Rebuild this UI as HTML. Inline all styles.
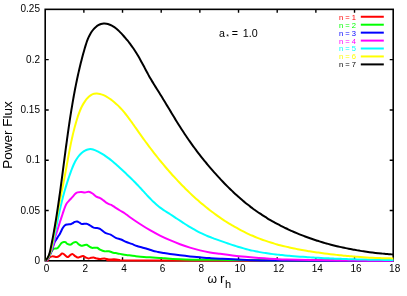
<!DOCTYPE html>
<html><head><meta charset="utf-8"><title>Power Flux</title>
<style>
html,body{margin:0;padding:0;background:#fff;}
body{width:407px;height:296px;overflow:hidden;}
svg{display:block;will-change:transform;}
text{font-family:"Liberation Sans",sans-serif;}
</style></head><body>
<svg width="407" height="296" viewBox="0 0 407 296">
<rect width="407" height="296" fill="#fff"/>
<path d="M83.87 260.80v-3.5M83.87 9.35v3.5M122.53 260.80v-3.5M122.53 9.35v3.5M161.20 260.80v-3.5M161.20 9.35v3.5M199.87 260.80v-3.5M199.87 9.35v3.5M238.53 260.80v-3.5M238.53 9.35v3.5M277.20 260.80v-3.5M277.20 9.35v3.5M315.87 260.80v-3.5M315.87 9.35v3.5M354.53 260.80v-3.5M354.53 9.35v3.5M45.20 210.51h3.5M393.20 210.51h-3.5M45.20 160.22h3.5M393.20 160.22h-3.5M45.20 109.93h3.5M393.20 109.93h-3.5M45.20 59.64h3.5M393.20 59.64h-3.5" stroke="#000" stroke-width="1.4" fill="none"/>
<rect x="45.20" y="9.35" width="348.00" height="251.45" fill="none" stroke="#000" stroke-width="1.6"/>
<path d="M45.50 260.60C45.90 260.52 47.33 260.53 47.90 260.10C48.47 259.67 48.17 258.62 48.90 258.00C49.63 257.38 51.44 256.63 52.30 256.40C53.16 256.17 53.34 256.48 54.07 256.60C54.80 256.72 55.83 257.22 56.70 257.10C57.57 256.98 58.42 256.50 59.30 255.90C60.18 255.30 61.27 253.82 62.00 253.50C62.73 253.18 62.97 253.52 63.70 254.00C64.43 254.48 65.67 255.90 66.40 256.40C67.13 256.90 67.37 257.28 68.10 257.00C68.83 256.72 70.03 255.18 70.80 254.70C71.57 254.22 71.97 253.87 72.70 254.10C73.43 254.33 74.35 255.53 75.20 256.10C76.05 256.67 76.93 257.40 77.80 257.50C78.67 257.60 79.52 256.93 80.40 256.70C81.28 256.47 82.22 255.97 83.10 256.10C83.98 256.23 84.82 257.12 85.70 257.50C86.58 257.88 87.52 258.35 88.40 258.40C89.28 258.45 90.13 257.95 91.00 257.80C91.87 257.65 92.72 257.40 93.60 257.50C94.48 257.60 95.27 258.13 96.30 258.40C97.33 258.67 98.45 259.08 99.80 259.10C101.15 259.12 102.90 258.42 104.40 258.50C105.90 258.58 107.20 259.48 108.80 259.60C110.40 259.72 112.25 259.13 114.00 259.20C115.75 259.27 116.63 259.80 119.30 260.00C121.97 260.20 84.32 260.27 130.00 260.40C175.68 260.53 349.50 260.73 393.40 260.80" fill="none" stroke="#ff0000" stroke-width="2" stroke-linejoin="round" stroke-linecap="butt"/>
<path d="M45.50 260.60C46.00 260.08 47.55 258.88 48.50 257.50C49.45 256.12 50.37 253.73 51.20 252.30C52.03 250.87 52.55 249.55 53.50 248.90C54.45 248.25 55.95 248.87 56.90 248.40C57.85 247.93 58.43 246.98 59.20 246.10C59.97 245.22 60.73 243.78 61.50 243.10C62.27 242.42 63.13 242.15 63.80 242.00C64.47 241.85 64.92 241.90 65.50 242.20C66.08 242.50 66.43 243.40 67.30 243.80C68.17 244.20 69.68 244.78 70.70 244.60C71.72 244.42 72.47 243.12 73.40 242.70C74.33 242.28 75.42 241.83 76.30 242.10C77.18 242.37 77.87 243.70 78.70 244.30C79.53 244.90 80.42 245.55 81.30 245.70C82.18 245.85 83.12 245.35 84.00 245.20C84.88 245.05 85.73 244.60 86.60 244.80C87.47 245.00 88.32 245.90 89.20 246.40C90.08 246.90 91.02 247.57 91.90 247.80C92.78 248.03 93.62 247.80 94.50 247.80C95.38 247.80 96.28 247.50 97.20 247.80C98.12 248.10 98.80 249.02 100.00 249.60C101.20 250.18 102.93 251.02 104.40 251.30C105.87 251.58 107.33 251.07 108.80 251.30C110.27 251.53 111.73 252.35 113.20 252.70C114.67 253.05 115.98 253.10 117.60 253.40C119.22 253.70 121.15 254.20 122.90 254.50C124.65 254.80 126.05 254.93 128.10 255.20C130.15 255.47 132.55 255.80 135.20 256.10C137.85 256.40 141.07 256.77 144.00 257.00C146.93 257.23 149.87 257.33 152.80 257.50C155.73 257.67 158.73 257.78 161.60 258.00C164.47 258.22 166.10 258.57 170.00 258.80C173.90 259.03 180.00 259.25 185.00 259.40C190.00 259.55 192.50 259.62 200.00 259.70C207.50 259.78 220.00 259.80 230.00 259.90C240.00 260.00 248.33 260.18 260.00 260.30C271.67 260.42 277.77 260.52 300.00 260.60C322.23 260.68 377.83 260.77 393.40 260.80" fill="none" stroke="#00ff00" stroke-width="2" stroke-linejoin="round" stroke-linecap="butt"/>
<path d="M45.50 260.60C45.75 260.47 46.52 260.25 47.00 259.80C47.48 259.35 47.82 258.93 48.40 257.90C48.98 256.87 49.82 255.17 50.50 253.60C51.18 252.03 51.87 250.27 52.50 248.50C53.13 246.73 53.72 244.42 54.30 243.00C54.88 241.58 55.38 241.03 56.00 240.00C56.62 238.97 57.30 237.93 58.00 236.80C58.70 235.67 59.43 234.62 60.20 233.20C60.97 231.78 61.80 229.63 62.60 228.30C63.40 226.97 64.18 225.85 65.00 225.20C65.82 224.55 66.58 224.57 67.50 224.40C68.42 224.23 69.70 224.37 70.50 224.20C71.30 224.03 71.58 223.78 72.30 223.40C73.02 223.02 73.98 222.22 74.80 221.90C75.62 221.58 76.40 221.37 77.20 221.50C78.00 221.63 78.78 222.28 79.60 222.70C80.42 223.12 80.93 223.83 82.10 224.00C83.27 224.17 85.27 223.45 86.60 223.70C87.93 223.95 88.93 224.85 90.10 225.50C91.27 226.15 92.42 227.17 93.60 227.60C94.78 228.03 96.13 227.90 97.20 228.10C98.27 228.30 98.65 228.00 100.00 228.80C101.35 229.60 103.53 231.93 105.30 232.90C107.07 233.87 108.85 233.78 110.60 234.60C112.35 235.42 114.05 236.98 115.80 237.80C117.55 238.62 119.33 238.80 121.10 239.50C122.87 240.20 124.63 241.27 126.40 242.00C128.17 242.73 129.95 243.23 131.70 243.90C133.45 244.57 135.15 245.40 136.90 246.00C138.65 246.60 140.43 247.00 142.20 247.50C143.97 248.00 145.73 248.45 147.50 249.00C149.27 249.55 151.05 250.32 152.80 250.80C154.55 251.28 156.25 251.55 158.00 251.90C159.75 252.25 161.30 252.55 163.30 252.90C165.30 253.25 167.22 253.60 170.00 254.00C172.78 254.40 176.67 254.90 180.00 255.30C183.33 255.70 186.67 256.07 190.00 256.40C193.33 256.73 196.67 257.02 200.00 257.30C203.33 257.58 206.67 257.87 210.00 258.10C213.33 258.33 214.67 258.43 220.00 258.70C225.33 258.97 233.67 259.42 242.00 259.70C250.33 259.98 244.77 260.22 270.00 260.40C295.23 260.58 372.83 260.73 393.40 260.80" fill="none" stroke="#0000ff" stroke-width="2" stroke-linejoin="round" stroke-linecap="butt"/>
<path d="M45.50 260.60C45.73 260.47 46.43 260.25 46.90 259.80C47.37 259.35 47.73 258.93 48.30 257.90C48.87 256.87 49.63 255.17 50.30 253.60C50.97 252.03 51.65 250.48 52.30 248.50C52.95 246.52 53.70 243.70 54.20 241.70C54.70 239.70 54.72 238.58 55.30 236.50C55.88 234.42 56.88 231.73 57.70 229.20C58.52 226.67 59.38 223.83 60.20 221.30C61.02 218.77 62.00 215.83 62.60 214.00C63.20 212.17 63.20 211.93 63.80 210.30C64.40 208.67 65.25 205.88 66.20 204.20C67.15 202.52 68.55 201.30 69.50 200.20C70.45 199.10 70.93 198.67 71.90 197.60C72.87 196.53 74.37 194.67 75.30 193.80C76.23 192.93 76.51 192.70 77.50 192.40C78.49 192.10 80.00 191.98 81.25 192.00C82.50 192.02 83.75 192.54 85.00 192.50C86.25 192.46 87.50 191.58 88.75 191.75C90.00 191.92 91.25 192.69 92.50 193.50C93.75 194.31 94.98 195.83 96.25 196.60C97.52 197.37 98.89 197.47 100.10 198.10C101.31 198.73 102.47 199.63 103.50 200.40C104.53 201.17 105.33 202.07 106.25 202.70C107.17 203.33 108.04 203.77 109.00 204.20C109.96 204.63 111.00 204.78 112.00 205.30C113.00 205.82 113.67 206.43 115.00 207.30C116.33 208.17 118.33 209.47 120.00 210.50C121.67 211.53 123.33 212.38 125.00 213.50C126.67 214.62 127.50 215.45 130.00 217.20C132.50 218.95 136.67 221.83 140.00 224.00C143.33 226.17 146.67 228.27 150.00 230.20C153.33 232.13 156.67 233.93 160.00 235.60C163.33 237.27 166.67 238.77 170.00 240.20C173.33 241.63 176.67 242.97 180.00 244.20C183.33 245.43 186.67 246.57 190.00 247.60C193.33 248.63 196.67 249.60 200.00 250.40C203.33 251.20 206.67 251.83 210.00 252.40C213.33 252.97 216.50 253.33 220.00 253.80C223.50 254.27 227.32 254.73 231.00 255.20C234.68 255.67 238.40 256.22 242.10 256.60C245.80 256.98 249.52 257.22 253.20 257.50C256.88 257.78 260.52 258.05 264.20 258.30C267.88 258.55 271.62 258.78 275.30 259.00C278.98 259.22 280.52 259.42 286.30 259.60C292.08 259.78 299.38 259.93 310.00 260.10C320.62 260.27 336.10 260.48 350.00 260.60C363.90 260.72 386.17 260.77 393.40 260.80" fill="none" stroke="#ff00ff" stroke-width="2" stroke-linejoin="round" stroke-linecap="butt"/>
<path d="M45.50 260.60C45.85 260.26 47.03 259.34 47.63 258.57C48.22 257.80 48.66 256.89 49.08 255.99C49.51 255.08 49.83 254.09 50.17 253.14C50.50 252.18 50.81 251.21 51.10 250.24C51.40 249.28 51.67 248.31 51.93 247.34C52.20 246.37 52.44 245.40 52.68 244.43C52.91 243.46 53.14 242.48 53.35 241.51C53.57 240.53 53.78 239.56 53.98 238.58C54.18 237.60 54.38 236.62 54.57 235.64C54.76 234.66 54.95 233.67 55.15 232.69C55.34 231.70 55.53 230.72 55.72 229.73C55.91 228.75 56.11 227.76 56.30 226.77C56.50 225.78 56.70 224.79 56.90 223.81C57.09 222.82 57.29 221.83 57.50 220.84C57.70 219.85 57.90 218.86 58.11 217.87C58.32 216.89 58.53 215.90 58.74 214.91C58.95 213.93 59.16 212.94 59.38 211.95C59.60 210.97 59.82 209.99 60.04 209.00C60.26 208.02 60.49 207.04 60.72 206.06C60.95 205.09 61.18 204.11 61.42 203.14C61.66 202.16 61.90 201.19 62.14 200.22C62.39 199.25 62.63 198.29 62.89 197.32C63.14 196.36 63.40 195.40 63.66 194.44C63.92 193.48 64.18 192.52 64.45 191.57C64.73 190.61 65.00 189.65 65.28 188.70C65.56 187.74 65.85 186.79 66.14 185.84C66.43 184.88 66.73 183.93 67.03 182.98C67.33 182.02 67.64 181.07 67.95 180.12C68.27 179.16 68.59 178.21 68.91 177.25C69.24 176.29 69.57 175.34 69.91 174.38C70.25 173.42 70.59 172.45 70.94 171.49C71.30 170.53 71.65 169.56 72.03 168.61C72.40 167.65 72.78 166.69 73.19 165.75C73.59 164.81 74.01 163.88 74.46 162.97C74.91 162.05 75.38 161.16 75.88 160.29C76.38 159.42 76.91 158.57 77.48 157.76C78.05 156.94 78.64 156.16 79.29 155.41C79.93 154.67 80.61 153.95 81.34 153.29C82.07 152.63 82.85 151.99 83.68 151.43C84.50 150.88 85.38 150.35 86.27 149.97C87.17 149.59 88.11 149.27 89.05 149.15C90.00 149.03 90.97 149.06 91.94 149.23C92.90 149.40 93.88 149.79 94.83 150.16C95.79 150.53 96.74 151.01 97.66 151.47C98.59 151.93 99.49 152.41 100.38 152.91C101.27 153.41 102.15 153.93 103.01 154.46C103.87 154.99 104.71 155.54 105.54 156.11C106.38 156.67 107.19 157.25 108.00 157.84C108.81 158.43 109.61 159.04 110.39 159.65C111.18 160.27 111.96 160.90 112.73 161.53C113.50 162.17 114.26 162.82 115.01 163.47C115.77 164.12 116.51 164.78 117.26 165.45C118.00 166.11 118.74 166.79 119.48 167.46C120.22 168.14 120.95 168.82 121.68 169.50C122.41 170.18 123.14 170.87 123.87 171.56C124.60 172.24 125.33 172.93 126.06 173.62C126.79 174.31 127.51 175.01 128.24 175.70C128.96 176.40 129.68 177.10 130.40 177.80C131.12 178.50 131.84 179.20 132.55 179.91C133.26 180.62 133.97 181.33 134.68 182.05C135.39 182.76 136.09 183.48 136.79 184.21C137.49 184.93 138.19 185.66 138.88 186.39C139.58 187.12 140.26 187.86 140.95 188.60C141.63 189.34 142.31 190.09 142.99 190.83C143.67 191.58 144.35 192.32 145.03 193.07C145.71 193.81 146.39 194.56 147.07 195.30C147.75 196.03 148.44 196.77 149.13 197.50C149.82 198.23 150.52 198.95 151.23 199.66C151.93 200.37 152.64 201.08 153.36 201.77C154.09 202.46 154.82 203.14 155.56 203.80C156.30 204.46 157.06 205.11 157.83 205.75C158.60 206.38 159.38 206.99 160.18 207.59C160.98 208.19 161.79 208.76 162.62 209.33C163.44 209.90 164.28 210.45 165.12 211.00C165.96 211.54 166.82 212.08 167.67 212.62C168.52 213.16 169.37 213.70 170.22 214.24C171.07 214.79 171.92 215.34 172.76 215.89C173.61 216.44 174.45 217.00 175.29 217.56C176.14 218.11 176.98 218.68 177.82 219.23C178.66 219.79 179.50 220.35 180.35 220.91C181.19 221.47 182.03 222.03 182.88 222.58C183.72 223.13 184.56 223.69 185.41 224.23C186.26 224.78 187.11 225.32 187.96 225.85C188.81 226.39 189.67 226.92 190.53 227.44C191.39 227.96 192.25 228.47 193.12 228.97C193.98 229.47 194.85 229.97 195.73 230.45C196.60 230.93 197.48 231.40 198.37 231.86C199.26 232.31 200.15 232.76 201.05 233.19C201.95 233.62 202.85 234.03 203.76 234.44C204.67 234.85 205.59 235.24 206.51 235.63C207.43 236.01 208.35 236.38 209.28 236.75C210.21 237.12 211.14 237.48 212.08 237.83C213.01 238.19 213.95 238.53 214.89 238.88C215.84 239.22 216.78 239.56 217.73 239.90C218.67 240.24 219.62 240.57 220.57 240.91C221.52 241.24 222.47 241.58 223.43 241.91C224.38 242.24 225.33 242.57 226.29 242.90C227.25 243.23 228.20 243.56 229.16 243.88C230.12 244.20 231.08 244.52 232.04 244.84C233.00 245.15 233.96 245.46 234.93 245.77C235.89 246.08 236.86 246.38 237.82 246.68C238.79 246.97 239.76 247.26 240.73 247.55C241.69 247.83 242.66 248.11 243.64 248.38C244.61 248.65 245.58 248.92 246.55 249.18C247.53 249.43 248.50 249.68 249.48 249.92C250.45 250.16 251.43 250.40 252.41 250.62C253.38 250.84 254.36 251.06 255.34 251.26C256.32 251.46 257.30 251.66 258.29 251.85C259.27 252.03 260.25 252.21 261.23 252.38C262.22 252.56 263.20 252.72 264.19 252.88C265.18 253.03 266.16 253.18 267.15 253.33C268.14 253.47 269.13 253.61 270.11 253.74C271.10 253.87 272.09 254.00 273.08 254.12C274.08 254.24 275.07 254.36 276.06 254.47C277.05 254.58 278.05 254.69 279.04 254.79C280.03 254.90 281.03 255.00 282.02 255.10C283.02 255.20 284.01 255.29 285.01 255.38C286.01 255.48 287.01 255.57 288.00 255.66C289.00 255.75 290.00 255.83 291.00 255.92C292.00 256.01 293.00 256.09 294.00 256.17C295.00 256.25 296.00 256.33 297.00 256.41C298.00 256.49 299.00 256.57 300.01 256.64C301.01 256.72 302.01 256.79 303.01 256.86C304.02 256.94 305.02 257.01 306.02 257.07C307.03 257.14 308.03 257.21 309.04 257.28C310.04 257.34 311.05 257.40 312.05 257.47C313.06 257.53 314.06 257.59 315.07 257.65C316.07 257.71 317.08 257.77 318.09 257.82C319.09 257.88 320.10 257.93 321.11 257.99C322.11 258.04 323.12 258.09 324.13 258.15C325.13 258.20 326.14 258.25 327.15 258.29C328.16 258.34 329.16 258.39 330.17 258.43C331.18 258.48 332.19 258.52 333.19 258.57C334.20 258.61 335.21 258.65 336.22 258.69C337.22 258.73 338.23 258.77 339.24 258.81C340.25 258.85 341.25 258.89 342.26 258.92C343.27 258.96 344.28 258.99 345.28 259.03C346.29 259.06 347.30 259.10 348.31 259.13C349.31 259.16 350.32 259.19 351.33 259.22C352.33 259.25 353.34 259.28 354.35 259.31C355.35 259.33 356.36 259.36 357.37 259.39C358.37 259.41 359.38 259.44 360.38 259.46C361.39 259.49 362.39 259.51 363.40 259.53C364.40 259.55 365.41 259.58 366.41 259.60C367.41 259.62 368.42 259.64 369.42 259.66C370.42 259.68 371.43 259.70 372.43 259.71C373.43 259.73 374.43 259.75 375.44 259.76C376.44 259.78 377.44 259.80 378.44 259.81C379.44 259.83 380.44 259.84 381.44 259.86C382.44 259.87 383.44 259.88 384.43 259.90C385.43 259.91 386.43 259.92 387.43 259.93C388.42 259.95 389.42 259.96 390.42 259.97C391.41 259.98 392.90 259.99 393.40 260.00" fill="none" stroke="#00ffff" stroke-width="2" stroke-linejoin="round" stroke-linecap="butt"/>
<path d="M45.50 260.60C45.83 260.23 46.92 259.19 47.49 258.40C48.07 257.61 48.53 256.75 48.96 255.87C49.38 254.98 49.71 254.05 50.03 253.10C50.34 252.15 50.59 251.17 50.84 250.19C51.09 249.21 51.30 248.21 51.52 247.23C51.74 246.24 51.95 245.25 52.15 244.26C52.35 243.27 52.55 242.29 52.73 241.30C52.92 240.31 53.11 239.32 53.28 238.34C53.46 237.35 53.63 236.36 53.80 235.38C53.97 234.39 54.14 233.40 54.30 232.42C54.47 231.43 54.63 230.45 54.79 229.46C54.95 228.47 55.11 227.49 55.27 226.50C55.43 225.52 55.59 224.53 55.75 223.54C55.92 222.56 56.08 221.57 56.25 220.59C56.41 219.60 56.58 218.61 56.75 217.63C56.92 216.64 57.10 215.66 57.28 214.67C57.45 213.68 57.63 212.70 57.81 211.71C58.00 210.73 58.18 209.74 58.36 208.75C58.55 207.77 58.74 206.78 58.93 205.80C59.11 204.81 59.31 203.82 59.50 202.84C59.69 201.85 59.88 200.87 60.07 199.88C60.27 198.90 60.46 197.91 60.66 196.92C60.85 195.94 61.05 194.95 61.24 193.97C61.44 192.98 61.64 192.00 61.83 191.01C62.03 190.03 62.23 189.04 62.42 188.06C62.62 187.07 62.81 186.09 63.01 185.10C63.20 184.12 63.40 183.13 63.59 182.15C63.78 181.16 63.98 180.18 64.17 179.19C64.36 178.21 64.55 177.22 64.74 176.24C64.93 175.25 65.11 174.27 65.30 173.29C65.48 172.30 65.67 171.32 65.85 170.33C66.03 169.35 66.21 168.37 66.39 167.38C66.57 166.40 66.75 165.42 66.93 164.43C67.10 163.45 67.28 162.47 67.46 161.49C67.64 160.50 67.82 159.52 68.00 158.54C68.18 157.56 68.36 156.58 68.54 155.60C68.72 154.61 68.90 153.63 69.09 152.65C69.27 151.67 69.46 150.69 69.65 149.71C69.84 148.73 70.03 147.75 70.23 146.77C70.42 145.80 70.62 144.82 70.82 143.84C71.02 142.86 71.23 141.88 71.43 140.91C71.64 139.93 71.86 138.95 72.07 137.98C72.29 137.00 72.51 136.03 72.74 135.05C72.97 134.08 73.20 133.10 73.44 132.13C73.68 131.16 73.92 130.18 74.17 129.21C74.42 128.24 74.68 127.27 74.94 126.29C75.21 125.32 75.48 124.35 75.76 123.38C76.03 122.41 76.32 121.45 76.61 120.48C76.91 119.51 77.21 118.54 77.52 117.57C77.83 116.61 78.15 115.64 78.48 114.69C78.82 113.73 79.17 112.77 79.54 111.83C79.91 110.89 80.29 109.95 80.70 109.02C81.11 108.10 81.54 107.19 82.00 106.29C82.46 105.39 82.94 104.50 83.46 103.64C83.98 102.77 84.52 101.92 85.11 101.09C85.69 100.27 86.30 99.44 86.96 98.68C87.62 97.92 88.31 97.17 89.05 96.53C89.79 95.88 90.57 95.29 91.40 94.83C92.23 94.38 93.11 94.01 94.03 93.80C94.95 93.58 95.94 93.51 96.93 93.54C97.91 93.57 98.94 93.73 99.93 93.95C100.92 94.17 101.91 94.51 102.86 94.88C103.81 95.26 104.73 95.72 105.63 96.19C106.52 96.67 107.39 97.20 108.24 97.74C109.09 98.27 109.92 98.84 110.73 99.42C111.54 100.00 112.33 100.60 113.11 101.22C113.89 101.84 114.65 102.47 115.39 103.13C116.13 103.78 116.86 104.45 117.58 105.14C118.29 105.83 118.99 106.53 119.68 107.24C120.37 107.96 121.04 108.69 121.71 109.43C122.37 110.17 123.02 110.92 123.67 111.68C124.31 112.45 124.94 113.22 125.57 114.00C126.19 114.79 126.81 115.58 127.42 116.38C128.03 117.17 128.63 117.98 129.23 118.79C129.83 119.60 130.42 120.42 131.01 121.24C131.60 122.06 132.19 122.89 132.77 123.71C133.35 124.54 133.93 125.37 134.51 126.20C135.09 127.03 135.67 127.86 136.25 128.69C136.83 129.52 137.41 130.35 137.99 131.18C138.57 132.01 139.15 132.83 139.74 133.66C140.32 134.48 140.90 135.30 141.49 136.12C142.08 136.94 142.67 137.76 143.26 138.58C143.85 139.39 144.44 140.21 145.04 141.02C145.63 141.83 146.23 142.64 146.82 143.45C147.42 144.26 148.02 145.06 148.62 145.87C149.22 146.67 149.83 147.47 150.43 148.27C151.04 149.07 151.65 149.87 152.26 150.66C152.87 151.46 153.48 152.25 154.09 153.04C154.71 153.83 155.33 154.62 155.94 155.40C156.56 156.19 157.19 156.97 157.81 157.75C158.43 158.53 159.06 159.31 159.69 160.09C160.32 160.86 160.95 161.64 161.58 162.41C162.22 163.18 162.85 163.95 163.49 164.71C164.13 165.48 164.78 166.24 165.42 167.00C166.07 167.76 166.71 168.52 167.36 169.27C168.02 170.02 168.67 170.78 169.33 171.53C169.98 172.27 170.64 173.02 171.31 173.76C171.97 174.51 172.63 175.25 173.30 175.99C173.97 176.72 174.64 177.46 175.32 178.19C176.00 178.92 176.67 179.65 177.36 180.38C178.04 181.10 178.72 181.82 179.41 182.54C180.10 183.26 180.79 183.98 181.49 184.69C182.19 185.41 182.89 186.12 183.59 186.82C184.29 187.53 185.00 188.23 185.71 188.94C186.42 189.64 187.14 190.33 187.85 191.03C188.57 191.72 189.29 192.41 190.02 193.10C190.75 193.79 191.48 194.47 192.21 195.15C192.94 195.83 193.68 196.51 194.42 197.18C195.17 197.86 195.91 198.53 196.66 199.19C197.41 199.86 198.17 200.52 198.92 201.18C199.68 201.84 200.45 202.49 201.21 203.15C201.98 203.80 202.75 204.44 203.52 205.09C204.30 205.73 205.08 206.37 205.86 207.00C206.64 207.63 207.43 208.26 208.22 208.89C209.01 209.51 209.81 210.13 210.61 210.74C211.41 211.36 212.21 211.97 213.02 212.57C213.83 213.18 214.64 213.78 215.46 214.37C216.27 214.96 217.09 215.55 217.91 216.14C218.74 216.72 219.57 217.30 220.40 217.87C221.23 218.44 222.07 219.00 222.91 219.56C223.75 220.12 224.59 220.68 225.44 221.22C226.29 221.77 227.14 222.31 228.00 222.85C228.85 223.38 229.71 223.91 230.57 224.43C231.44 224.95 232.30 225.46 233.17 225.97C234.04 226.48 234.92 226.98 235.79 227.47C236.67 227.97 237.55 228.45 238.43 228.93C239.32 229.41 240.21 229.88 241.10 230.35C241.99 230.81 242.88 231.27 243.78 231.72C244.67 232.16 245.57 232.60 246.48 233.04C247.38 233.47 248.28 233.90 249.19 234.31C250.10 234.73 251.01 235.14 251.93 235.54C252.84 235.94 253.76 236.33 254.68 236.71C255.60 237.09 256.52 237.47 257.45 237.84C258.37 238.20 259.30 238.56 260.23 238.91C261.16 239.26 262.09 239.60 263.03 239.94C263.96 240.27 264.90 240.60 265.84 240.92C266.78 241.24 267.72 241.55 268.67 241.86C269.61 242.16 270.56 242.46 271.51 242.75C272.46 243.05 273.41 243.33 274.36 243.61C275.31 243.89 276.27 244.16 277.23 244.42C278.18 244.69 279.14 244.95 280.10 245.20C281.07 245.45 282.03 245.70 282.99 245.94C283.96 246.18 284.93 246.42 285.90 246.65C286.86 246.88 287.83 247.10 288.81 247.32C289.78 247.54 290.75 247.75 291.73 247.96C292.70 248.17 293.68 248.38 294.66 248.58C295.64 248.77 296.62 248.97 297.60 249.16C298.58 249.35 299.56 249.54 300.55 249.72C301.53 249.90 302.52 250.08 303.50 250.25C304.49 250.42 305.48 250.59 306.47 250.76C307.46 250.92 308.45 251.09 309.44 251.24C310.43 251.40 311.42 251.56 312.42 251.71C313.41 251.86 314.40 252.01 315.40 252.16C316.40 252.31 317.39 252.45 318.39 252.59C319.39 252.73 320.38 252.87 321.38 253.01C322.38 253.14 323.38 253.28 324.38 253.41C325.38 253.54 326.38 253.67 327.38 253.79C328.38 253.92 329.39 254.04 330.39 254.17C331.39 254.29 332.39 254.41 333.40 254.52C334.40 254.64 335.40 254.75 336.41 254.87C337.41 254.98 338.42 255.09 339.42 255.19C340.43 255.30 341.43 255.40 342.44 255.51C343.44 255.61 344.45 255.71 345.45 255.80C346.46 255.90 347.46 255.99 348.47 256.09C349.47 256.18 350.48 256.27 351.48 256.35C352.49 256.44 353.49 256.52 354.50 256.61C355.50 256.69 356.51 256.77 357.51 256.84C358.52 256.92 359.52 256.99 360.52 257.06C361.53 257.13 362.53 257.20 363.53 257.27C364.54 257.33 365.54 257.39 366.54 257.45C367.54 257.51 368.54 257.57 369.54 257.63C370.54 257.68 371.54 257.73 372.54 257.78C373.54 257.83 374.54 257.88 375.54 257.92C376.54 257.96 377.54 258.00 378.53 258.04C379.53 258.08 380.52 258.12 381.52 258.15C382.51 258.18 383.51 258.21 384.50 258.24C385.49 258.26 386.48 258.29 387.47 258.31C388.46 258.33 389.45 258.35 390.44 258.36C391.43 258.38 392.91 258.39 393.40 258.40" fill="none" stroke="#ffff00" stroke-width="2" stroke-linejoin="round" stroke-linecap="butt"/>
<path d="M45.50 260.60C45.81 260.21 46.83 259.10 47.37 258.28C47.90 257.46 48.32 256.58 48.70 255.68C49.09 254.78 49.38 253.83 49.65 252.88C49.93 251.93 50.15 250.94 50.37 249.96C50.59 248.98 50.78 247.98 50.99 246.99C51.19 246.00 51.39 245.02 51.58 244.03C51.78 243.04 51.97 242.05 52.17 241.06C52.36 240.08 52.55 239.09 52.73 238.10C52.92 237.11 53.10 236.12 53.28 235.14C53.46 234.15 53.64 233.16 53.82 232.17C54.00 231.19 54.17 230.20 54.34 229.21C54.52 228.22 54.69 227.23 54.86 226.24C55.02 225.26 55.19 224.27 55.35 223.28C55.52 222.29 55.68 221.30 55.84 220.31C56.00 219.32 56.16 218.33 56.32 217.34C56.48 216.35 56.63 215.36 56.79 214.37C56.94 213.38 57.10 212.39 57.25 211.39C57.40 210.40 57.55 209.41 57.70 208.42C57.85 207.43 58.00 206.44 58.14 205.44C58.29 204.45 58.43 203.46 58.58 202.46C58.72 201.47 58.86 200.48 59.01 199.49C59.15 198.49 59.29 197.50 59.43 196.50C59.57 195.51 59.71 194.52 59.84 193.52C59.98 192.53 60.12 191.53 60.26 190.54C60.39 189.55 60.53 188.55 60.66 187.56C60.80 186.56 60.93 185.57 61.06 184.57C61.20 183.58 61.33 182.58 61.46 181.59C61.60 180.59 61.73 179.60 61.86 178.60C61.99 177.61 62.12 176.61 62.25 175.61C62.38 174.62 62.51 173.62 62.64 172.63C62.77 171.63 62.90 170.64 63.03 169.64C63.16 168.65 63.29 167.65 63.42 166.65C63.55 165.66 63.68 164.66 63.81 163.67C63.94 162.67 64.07 161.68 64.20 160.68C64.33 159.68 64.46 158.69 64.59 157.69C64.72 156.70 64.85 155.70 64.98 154.71C65.11 153.71 65.24 152.72 65.38 151.72C65.51 150.72 65.64 149.73 65.77 148.73C65.90 147.74 66.04 146.74 66.17 145.75C66.30 144.75 66.44 143.76 66.57 142.76C66.71 141.77 66.84 140.77 66.98 139.78C67.11 138.79 67.25 137.79 67.39 136.80C67.53 135.80 67.67 134.81 67.80 133.82C67.94 132.82 68.08 131.83 68.23 130.83C68.37 129.84 68.51 128.85 68.65 127.85C68.80 126.86 68.94 125.87 69.09 124.88C69.24 123.88 69.38 122.89 69.53 121.90C69.68 120.91 69.83 119.92 69.98 118.92C70.13 117.93 70.29 116.94 70.44 115.95C70.59 114.96 70.75 113.97 70.91 112.98C71.06 111.99 71.22 111.00 71.38 110.01C71.55 109.02 71.71 108.03 71.87 107.04C72.04 106.05 72.20 105.06 72.37 104.07C72.54 103.08 72.71 102.10 72.88 101.11C73.05 100.12 73.22 99.13 73.40 98.15C73.57 97.16 73.75 96.17 73.93 95.19C74.11 94.20 74.29 93.22 74.48 92.23C74.66 91.25 74.85 90.26 75.04 89.28C75.23 88.29 75.42 87.31 75.61 86.32C75.81 85.34 76.01 84.36 76.20 83.38C76.40 82.39 76.61 81.41 76.81 80.43C77.02 79.45 77.22 78.47 77.44 77.49C77.65 76.51 77.86 75.53 78.08 74.55C78.29 73.57 78.51 72.59 78.74 71.62C78.96 70.64 79.19 69.66 79.41 68.69C79.64 67.71 79.88 66.73 80.11 65.76C80.35 64.78 80.59 63.81 80.83 62.84C81.08 61.86 81.32 60.89 81.57 59.92C81.82 58.95 82.08 57.97 82.33 57.00C82.59 56.03 82.85 55.06 83.12 54.09C83.39 53.13 83.65 52.16 83.93 51.19C84.20 50.22 84.48 49.26 84.76 48.29C85.04 47.32 85.33 46.36 85.62 45.40C85.92 44.44 86.23 43.48 86.55 42.52C86.88 41.57 87.22 40.62 87.59 39.68C87.96 38.75 88.35 37.81 88.78 36.89C89.21 35.97 89.66 35.06 90.16 34.17C90.66 33.27 91.20 32.37 91.78 31.52C92.37 30.67 93.00 29.82 93.68 29.05C94.36 28.28 95.11 27.54 95.89 26.90C96.66 26.26 97.50 25.67 98.35 25.20C99.20 24.73 100.09 24.35 100.99 24.08C101.89 23.82 102.82 23.67 103.74 23.62C104.66 23.57 105.60 23.62 106.51 23.76C107.43 23.90 108.34 24.13 109.23 24.44C110.12 24.75 110.99 25.15 111.85 25.60C112.70 26.06 113.54 26.59 114.36 27.16C115.18 27.73 115.99 28.37 116.77 29.03C117.56 29.70 118.33 30.41 119.09 31.14C119.85 31.86 120.59 32.63 121.32 33.39C122.04 34.15 122.75 34.94 123.45 35.72C124.15 36.50 124.83 37.28 125.50 38.07C126.17 38.87 126.82 39.66 127.47 40.46C128.11 41.27 128.74 42.07 129.36 42.88C129.97 43.69 130.58 44.51 131.17 45.33C131.76 46.15 132.34 46.97 132.91 47.80C133.48 48.62 134.04 49.46 134.59 50.29C135.13 51.12 135.67 51.96 136.20 52.80C136.72 53.64 137.24 54.48 137.75 55.32C138.26 56.17 138.75 57.02 139.24 57.87C139.73 58.71 140.21 59.57 140.68 60.42C141.16 61.27 141.62 62.12 142.08 62.98C142.55 63.84 143.00 64.69 143.46 65.55C143.91 66.41 144.37 67.27 144.82 68.13C145.28 68.99 145.73 69.86 146.19 70.72C146.65 71.59 147.11 72.45 147.58 73.32C148.05 74.18 148.52 75.05 149.01 75.92C149.49 76.78 149.98 77.65 150.49 78.52C150.99 79.39 151.50 80.26 152.02 81.13C152.54 82.00 153.07 82.87 153.61 83.74C154.14 84.62 154.68 85.49 155.23 86.36C155.77 87.23 156.31 88.10 156.86 88.98C157.41 89.85 157.96 90.72 158.50 91.59C159.05 92.46 159.60 93.34 160.14 94.21C160.68 95.08 161.22 95.95 161.76 96.82C162.30 97.69 162.83 98.57 163.36 99.44C163.89 100.31 164.42 101.18 164.95 102.05C165.47 102.91 166.00 103.78 166.52 104.65C167.04 105.52 167.57 106.39 168.09 107.25C168.61 108.12 169.13 108.98 169.65 109.85C170.16 110.71 170.68 111.57 171.20 112.43C171.72 113.30 172.24 114.16 172.76 115.02C173.28 115.87 173.80 116.73 174.32 117.59C174.84 118.44 175.36 119.30 175.88 120.15C176.41 121.00 176.93 121.85 177.46 122.70C177.98 123.55 178.51 124.40 179.04 125.24C179.57 126.09 180.10 126.93 180.64 127.77C181.18 128.62 181.72 129.45 182.26 130.29C182.80 131.13 183.35 131.96 183.90 132.79C184.44 133.63 185.00 134.46 185.55 135.28C186.11 136.11 186.67 136.94 187.23 137.76C187.80 138.58 188.36 139.40 188.93 140.22C189.50 141.04 190.08 141.85 190.65 142.67C191.23 143.48 191.81 144.29 192.39 145.10C192.98 145.91 193.57 146.71 194.16 147.52C194.75 148.32 195.34 149.12 195.94 149.92C196.54 150.72 197.14 151.52 197.75 152.31C198.35 153.11 198.96 153.90 199.57 154.69C200.18 155.48 200.80 156.26 201.42 157.05C202.04 157.83 202.66 158.61 203.29 159.39C203.91 160.17 204.54 160.95 205.18 161.73C205.81 162.50 206.45 163.27 207.09 164.04C207.73 164.81 208.37 165.58 209.02 166.34C209.67 167.11 210.32 167.87 210.97 168.63C211.63 169.39 212.29 170.15 212.95 170.90C213.61 171.66 214.28 172.41 214.95 173.16C215.62 173.91 216.29 174.66 216.97 175.40C217.64 176.14 218.32 176.89 219.01 177.63C219.69 178.37 220.38 179.10 221.07 179.84C221.76 180.57 222.46 181.30 223.16 182.03C223.85 182.76 224.56 183.49 225.26 184.21C225.97 184.93 226.68 185.65 227.39 186.36C228.11 187.08 228.82 187.79 229.55 188.50C230.27 189.20 230.99 189.91 231.72 190.61C232.45 191.31 233.19 192.00 233.92 192.69C234.66 193.38 235.40 194.07 236.15 194.75C236.89 195.43 237.64 196.11 238.40 196.78C239.15 197.45 239.91 198.11 240.67 198.77C241.43 199.44 242.20 200.09 242.97 200.74C243.74 201.39 244.51 202.03 245.29 202.67C246.07 203.30 246.85 203.94 247.64 204.56C248.43 205.18 249.22 205.80 250.02 206.41C250.81 207.03 251.62 207.63 252.42 208.23C253.23 208.83 254.04 209.42 254.85 210.00C255.66 210.59 256.48 211.16 257.30 211.73C258.12 212.31 258.95 212.87 259.78 213.43C260.61 213.99 261.44 214.54 262.28 215.08C263.12 215.63 263.96 216.17 264.81 216.70C265.65 217.23 266.50 217.76 267.36 218.28C268.21 218.80 269.07 219.31 269.93 219.82C270.79 220.33 271.65 220.83 272.52 221.32C273.39 221.81 274.26 222.30 275.14 222.78C276.01 223.27 276.89 223.74 277.77 224.21C278.65 224.68 279.54 225.14 280.43 225.60C281.31 226.06 282.21 226.51 283.10 226.96C284.00 227.40 284.89 227.84 285.79 228.27C286.70 228.71 287.60 229.13 288.51 229.55C289.41 229.98 290.32 230.39 291.24 230.80C292.15 231.21 293.06 231.61 293.98 232.01C294.90 232.41 295.82 232.80 296.74 233.19C297.67 233.57 298.60 233.95 299.52 234.33C300.45 234.70 301.38 235.07 302.32 235.43C303.25 235.80 304.19 236.16 305.13 236.51C306.07 236.86 307.01 237.21 307.95 237.55C308.89 237.89 309.84 238.22 310.79 238.55C311.74 238.88 312.69 239.21 313.64 239.53C314.59 239.84 315.55 240.16 316.50 240.47C317.46 240.77 318.42 241.08 319.38 241.37C320.34 241.67 321.30 241.96 322.26 242.25C323.23 242.54 324.19 242.82 325.16 243.09C326.13 243.37 327.09 243.64 328.07 243.91C329.04 244.17 330.01 244.43 330.98 244.69C331.95 244.94 332.93 245.19 333.91 245.44C334.88 245.68 335.86 245.92 336.84 246.16C337.82 246.39 338.80 246.62 339.78 246.85C340.76 247.08 341.75 247.30 342.73 247.51C343.71 247.73 344.70 247.94 345.69 248.14C346.67 248.35 347.66 248.55 348.65 248.74C349.64 248.94 350.62 249.13 351.61 249.32C352.60 249.50 353.59 249.69 354.59 249.86C355.58 250.04 356.57 250.21 357.56 250.38C358.55 250.55 359.55 250.71 360.54 250.87C361.54 251.03 362.53 251.18 363.53 251.33C364.52 251.48 365.52 251.62 366.51 251.76C367.51 251.90 368.50 252.04 369.50 252.17C370.49 252.30 371.49 252.43 372.49 252.55C373.48 252.67 374.48 252.79 375.48 252.91C376.47 253.02 377.47 253.13 378.47 253.23C379.46 253.34 380.46 253.44 381.46 253.54C382.45 253.63 383.45 253.73 384.45 253.81C385.44 253.90 386.44 253.99 387.43 254.07C388.43 254.15 389.42 254.22 390.42 254.30C391.41 254.37 392.90 254.47 393.40 254.50" fill="none" stroke="#000000" stroke-width="2" stroke-linejoin="round" stroke-linecap="butt"/>
<text x="46.65" y="272" font-size="10" text-anchor="middle">0</text>
<text x="85.32" y="272" font-size="10" text-anchor="middle">2</text>
<text x="123.98" y="272" font-size="10" text-anchor="middle">4</text>
<text x="162.65" y="272" font-size="10" text-anchor="middle">6</text>
<text x="201.32" y="272" font-size="10" text-anchor="middle">8</text>
<text x="239.98" y="272" font-size="10" text-anchor="middle">10</text>
<text x="278.65" y="272" font-size="10" text-anchor="middle">12</text>
<text x="317.32" y="272" font-size="10" text-anchor="middle">14</text>
<text x="355.98" y="272" font-size="10" text-anchor="middle">16</text>
<text x="394.65" y="272" font-size="10" text-anchor="middle">18</text>
<text x="40" y="263.80" font-size="10" text-anchor="end">0</text>
<text x="40" y="213.51" font-size="10" text-anchor="end">0.05</text>
<text x="40" y="163.22" font-size="10" text-anchor="end">0.1</text>
<text x="40" y="112.93" font-size="10" text-anchor="end">0.15</text>
<text x="40" y="62.64" font-size="10" text-anchor="end">0.2</text>
<text x="40" y="12.35" font-size="10" text-anchor="end">0.25</text>
<text transform="translate(12.2,134.9) rotate(-90)" font-size="13.5" text-anchor="middle">Power Flux</text>
<text transform="translate(207.5,283.0) scale(0.9,1)" font-size="13.5">ω</text>
<text x="220.1" y="282.8" font-size="13.5">r</text>
<text x="225.0" y="288.0" font-size="11">h</text>
<text x="219" y="37.4" font-size="10.7">a</text>
<text x="226.2" y="38.6" font-size="7">*</text>
<text x="231.8" y="37.4" font-size="10.7">=</text>
<text x="242.8" y="37.4" font-size="10.7">1.0</text>
<text x="356.0" y="19.65" font-size="7.6" text-anchor="end" fill="#ff0000">n = 1</text>
<path d="M360.8 16.75H383.8" stroke="#ff0000" stroke-width="2" fill="none"/>
<text x="356.0" y="27.60" font-size="7.6" text-anchor="end" fill="#00ff00">n = 2</text>
<path d="M360.8 24.70H383.8" stroke="#00ff00" stroke-width="2" fill="none"/>
<text x="356.0" y="35.55" font-size="7.6" text-anchor="end" fill="#0000ff">n = 3</text>
<path d="M360.8 32.65H383.8" stroke="#0000ff" stroke-width="2" fill="none"/>
<text x="356.0" y="43.50" font-size="7.6" text-anchor="end" fill="#ff00ff">n = 4</text>
<path d="M360.8 40.60H383.8" stroke="#ff00ff" stroke-width="2" fill="none"/>
<text x="356.0" y="51.40" font-size="7.6" text-anchor="end" fill="#00ffff">n = 5</text>
<path d="M360.8 48.50H383.8" stroke="#00ffff" stroke-width="2" fill="none"/>
<text x="356.0" y="59.35" font-size="7.6" text-anchor="end" fill="#ffff00">n = 6</text>
<path d="M360.8 56.45H383.8" stroke="#ffff00" stroke-width="2" fill="none"/>
<text x="356.0" y="67.30" font-size="7.6" text-anchor="end" fill="#000000">n = 7</text>
<path d="M360.8 64.40H383.8" stroke="#000000" stroke-width="2" fill="none"/>
</svg>
</body></html>
